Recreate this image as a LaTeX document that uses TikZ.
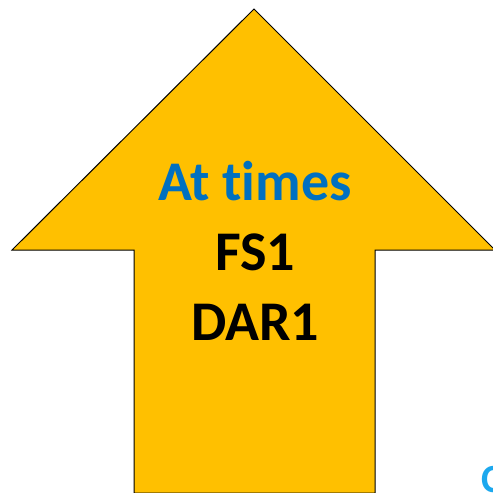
\documentclass[tikz,border=0pt]{standalone}
\usepackage{fontspec}
\setmainfont[Ligatures=NoCommon]{Carlito}
\definecolor{arrowgold}{HTML}{FFC000}
\definecolor{titleblue}{HTML}{0070C0}
\definecolor{edgeblue}{HTML}{1CA8EE}
\begin{document}
\begin{tikzpicture}[x=1pt,y=-1pt,
  label/.style={font=\bfseries\fontsize{56}{56}\selectfont, inner sep=0pt, anchor=base}]
  \useasboundingbox (0,0) rectangle (493,493);
  \begin{scope}
    \clip (0,0) rectangle (493,493);
    % up arrow
    \draw[fill=arrowgold, draw=black, line width=1pt, line join=miter]
      (254,9) -- (495,250) -- (375,250) -- (375,493) -- (134,493)
      -- (134,250) -- (12,250) -- cycle;
    \node[label, text=edgeblue, anchor=base west, font=\bfseries\fontsize{40}{40}\selectfont] (cut) at (481,492) {C};
  \end{scope}
  \node[label, text=titleblue] (t1) at (255,200) {At times};
  \node[label, text=black] (t2) at (255,270) {FS1};
  \node[label, text=black] (t3) at (255,340) {DAR1};
\end{tikzpicture}
\end{document}
